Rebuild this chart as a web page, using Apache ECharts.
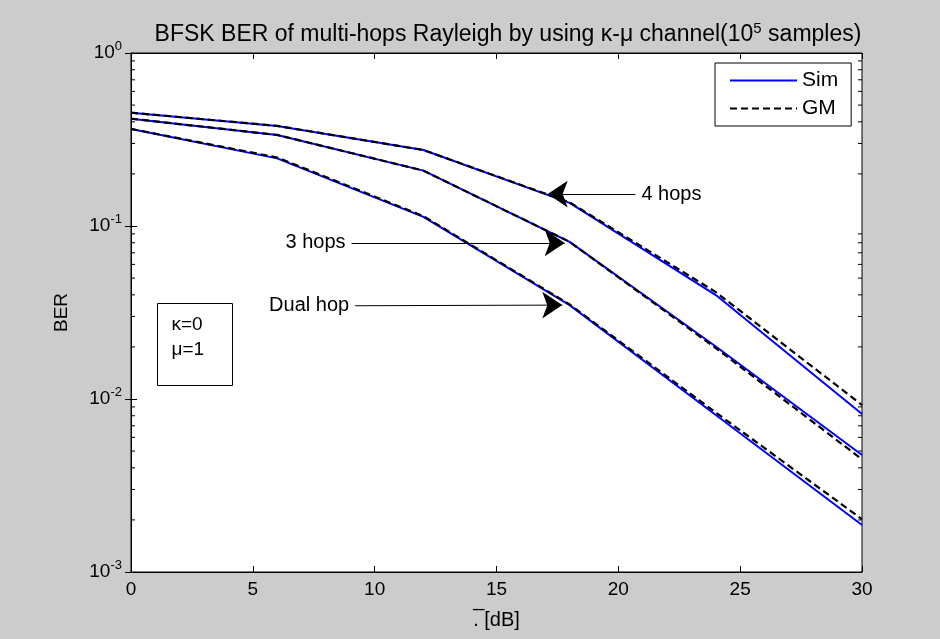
<!DOCTYPE html>
<html>
<head>
<meta charset="utf-8">
<script src="https://cdn.jsdelivr.net/npm/echarts@6/dist/echarts.min.js"></script>
<style>
  html, body { margin: 0; padding: 0; background: #cccccc; }
  #main { width: 940px; height: 639px; }
</style>
</head>
<body>
<div id="main"></div>
<script>
// SNR points in dB
var snr = [0, 6, 12, 18, 24, 30];

// BER curves
var dualSim  = [0.364, 0.246, 0.113, 0.0349, 0.00809, 0.00187];
var dualGM   = [0.364, 0.249, 0.114, 0.0352, 0.00835, 0.00202];
var threeSim = [0.417, 0.336, 0.209, 0.0810, 0.0201, 0.00475];
var threeGM  = [0.417, 0.336, 0.209, 0.0810, 0.0197, 0.00448];
var fourSim  = [0.452, 0.379, 0.275, 0.136, 0.0399, 0.00819];
var fourGM   = [0.452, 0.379, 0.275, 0.137, 0.0415, 0.00923];

// arrow annotations: text, tail [x, y], head [x, y]
var notes = [
  { text: "4 hops",   from: [20.7, 0.153],  to: [17.1, 0.153] },
  { text: "3 hops",   from: [9.05, 0.0798], to: [17.8, 0.0798] },
  { text: "Dual hop", from: [9.2, 0.0346],  to: [17.7, 0.0349] }
];

var FONT = "Liberation Sans";

function pair(xs, ys) {
  return xs.map(function (x, i) { return [x, ys[i]]; });
}

// minor ticks for the log axis (2..9 in each decade)
var minorTicks = [];
for (var d = -3; d < 0; d++) {
  for (var m = 2; m <= 9; m++) minorTicks.push(m * Math.pow(10, d));
}

function arrow(n) {
  return {
    silent: true,
    symbol: ["none", "arrow"],
    symbolSize: 20,
    lineStyle: { color: "#000", width: 1, type: "solid" },
    label: {
      show: true, position: "start", distance: 6,
      formatter: n.text, color: "#000", fontFamily: FONT, fontSize: 20
    },
    data: [[{ coord: n.from }, { coord: n.to }]]
  };
}

function simSeries(ys, note) {
  return {
    name: "Sim", type: "line", data: pair(snr, ys), symbol: "none",
    lineStyle: { color: "#0000ff", width: 2 }, itemStyle: { color: "#0000ff" },
    z: 2, markLine: arrow(note)
  };
}
function gmSeries(ys) {
  return {
    name: "GM", type: "line", data: pair(snr, ys), symbol: "none",
    lineStyle: { color: "#000", width: 2.2, type: [7, 4] }, itemStyle: { color: "#000" },
    z: 3
  };
}

var chart = echarts.init(document.getElementById("main"));
chart.setOption({
  backgroundColor: "#cccccc",
  animation: false,
  title: {
    text: "BFSK BER of multi-hops Rayleigh by using κ-μ channel(10{s|5} samples)",
    left: 503, top: 16, textAlign: "center",
    textStyle: {
      fontFamily: FONT, fontSize: 23, fontWeight: "normal", color: "#000",
      rich: { s: { fontFamily: FONT, fontSize: 15, padding: [0, 0, 12, 0], color: "#000" } }
    }
  },
  grid: {
    left: 131, right: 78, top: 53, bottom: 67,
    show: true, backgroundColor: "#fff", borderColor: "#000", borderWidth: 1
  },
  legend: {
    data: ["Sim", "GM"], orient: "vertical", left: 715, top: 63,
    itemWidth: 67, itemHeight: 14, itemGap: 7,
    padding: [7, 13, 7, 14],
    backgroundColor: "#fff", borderColor: "#000", borderWidth: 1, borderRadius: 0,
    itemStyle: { opacity: 0 },
    textStyle: { fontFamily: FONT, fontSize: 21, color: "#000" }
  },
  xAxis: [{
    type: "value", min: 0, max: 30, interval: 5,
    name: ".\u0305 [dB]", nameLocation: "middle", nameGap: 38,
    nameTextStyle: { fontFamily: FONT, fontSize: 20, color: "#000" },
    axisLine: { lineStyle: { color: "#000" } },
    axisTick: { inside: true, length: 6, lineStyle: { color: "#000" } },
    axisLabel: { fontFamily: FONT, fontSize: 19, color: "#000", margin: 8 },
    splitLine: { show: false }
  }, {
    type: "value", min: 0, max: 30, interval: 5, position: "top",
    axisLine: { lineStyle: { color: "#000" } },
    axisTick: { inside: true, length: 6, lineStyle: { color: "#000" } },
    axisLabel: { show: false }, splitLine: { show: false }
  }],
  yAxis: [{
    type: "log", logBase: 10, min: 0.001, max: 1,
    name: "BER", nameLocation: "middle", nameGap: 60,
    nameTextStyle: { fontFamily: FONT, fontSize: 19, color: "#000" },
    axisLine: { lineStyle: { color: "#000" } },
    axisTick: { inside: true, length: 6, lineStyle: { color: "#000" } },
    axisLabel: {
      fontFamily: FONT, fontSize: 19, color: "#000", margin: 9,
      formatter: function (v) { return "10{s|" + Math.round(Math.log10(v)) + "}"; },
      rich: { s: { fontFamily: FONT, fontSize: 13, padding: [0, 0, 13, 0], color: "#000" } }
    },
    splitLine: { show: false }
  }, {
    type: "log", logBase: 10, min: 0.001, max: 1, position: "right",
    axisLine: { lineStyle: { color: "#000" } },
    axisTick: { inside: true, length: 6, lineStyle: { color: "#000" } },
    axisLabel: { show: false }, splitLine: { show: false }
  }],
  graphic: [{
    type: "group", left: 157, top: 303,
    children: [{
      type: "rect", shape: { x: 0, y: 0, width: 75, height: 82 },
      style: { fill: "#fff", stroke: "#000", lineWidth: 1 }
    }, {
      type: "text", x: 14, y: 9,
      style: { text: "κ=0\nμ=1", font: "19px " + FONT, lineHeight: 25, fill: "#000" }
    }]
  }],
  series: [
    simSeries(dualSim, notes[2]),
    simSeries(threeSim, notes[1]),
    simSeries(fourSim, notes[0]),
    gmSeries(dualGM),
    gmSeries(threeGM),
    gmSeries(fourGM),
    {
      type: "custom", silent: true, z: 1,
      data: minorTicks.map(function (v) { return [0, v]; }),
      renderItem: function (params, api) {
        var cs = params.coordSys;
        var y = api.coord([0, api.value(1)])[1];
        var st = { stroke: "#000", lineWidth: 1 };
        return {
          type: "group",
          children: [
            { type: "line", shape: { x1: cs.x, y1: y, x2: cs.x + 4, y2: y }, style: st },
            { type: "line", shape: { x1: cs.x + cs.width - 4, y1: y, x2: cs.x + cs.width, y2: y }, style: st }
          ]
        };
      }
    }
  ]
});
</script>
</body>
</html>
